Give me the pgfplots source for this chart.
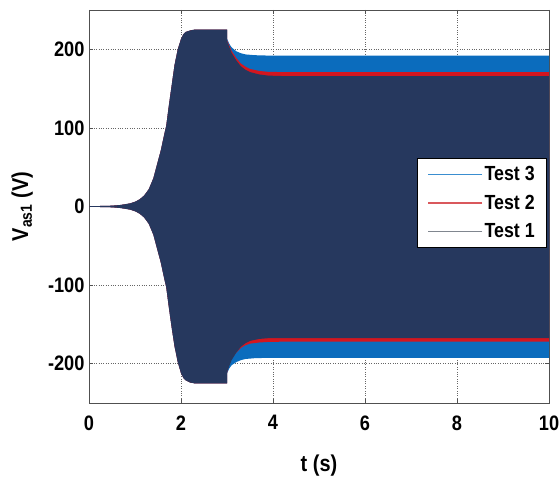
\documentclass[border=0pt]{standalone}
\usepackage{fontspec}
\setmainfont{Liberation Sans}[FakeStretch=0.87]
\usepackage{pgfplots}
\pgfplotsset{compat=1.18}
\usepackage{pgfplotstable}
\usepgfplotslibrary{fillbetween}

\definecolor{navy}{HTML}{26385E}
\definecolor{tblue}{HTML}{0B6CBD}
\definecolor{tred}{HTML}{D3161F}
\definecolor{lgblue}{HTML}{3A8ED0}
\definecolor{lgred}{HTML}{D9585C}
\definecolor{lggray}{HTML}{80868F}
\definecolor{axgray}{HTML}{505050}

% envelope of the phase voltage (upper / lower peaks)
\pgfplotstableread{
t      hi     lo
0      0.3    -0.3
0.5    1      -1
0.7    2      -2
0.9    4      -4
1.0    6      -6
1.1    9      -9
1.2    14     -14
1.3    22     -22
1.4    36     -36
1.45   47     -47
1.5    58     -58
1.56   71     -71
1.63   90     -90
1.68   103    -103
1.74   130    -130
1.8    155    -155
1.86   180    -178
1.93   200    -198
2.0    213    -212
2.05   219    -218
2.1    222    -221
2.2    224    -224
2.3    225    -225
3.0    225    -225
3.005  210    -210
3.05   203    -203
3.1    195.5  -195.5
3.2    186    -186
3.3    178.5  -178.5
3.4    174    -174
3.5    171    -171
3.7    168    -168.5
3.9    166.5  -167.5
4.2    166    -167.5
10     166    -167.5
}\testone

\pgfplotstableread{
t      hi     lo
0      0.3    -0.3
0.5    1      -1
0.7    2      -2
0.9    4      -4
1.0    6      -6
1.1    9      -9
1.2    14     -14
1.3    22     -22
1.4    36     -36
1.45   47     -47
1.5    58     -58
1.56   71     -71
1.63   90     -90
1.68   103    -103
1.74   130    -130
1.8    155    -155
1.86   180    -178
1.93   200    -198
2.0    213    -212
2.05   219    -218
2.1    222    -221
2.2    224    -224
2.3    225    -225
3.0    225    -225
3.005  211    -211
3.05   205    -200
3.1    198    -194
3.2    189    -186
3.3    182    -180
3.4    178    -176.5
3.5    175    -174.5
3.7    172.5  -173
3.9    171.3  -172.3
4.2    171    -172
10     171    -172
}\testtwo

\pgfplotstableread{
t      hi     lo
0      0.3    -0.3
0.5    1      -1
0.7    2      -2
0.9    4      -4
1.0    6      -6
1.1    9      -9
1.2    14     -14
1.3    22     -22
1.4    36     -36
1.45   47     -47
1.5    58     -58
1.56   71     -71
1.63   90     -90
1.68   103    -103
1.74   130    -130
1.8    155    -155
1.86   180    -178
1.93   200    -198
2.0    213    -212
2.05   219    -218
2.1    222    -221
2.2    224    -224
2.3    225    -225
3.0    225    -225
3.005  213    -212
3.05   207    -206
3.1    202.5  -202
3.15   200    -200
3.2    197.5  -198
3.3    195    -195.5
3.4    193.5  -194
3.6    192.5  -193
3.9    192    -192.5
10     192    -192.5
}\testthree

\begin{document}
\begin{tikzpicture}
\begin{axis}[
  scale only axis,
  width=460bp, height=393bp,
  xmin=0, xmax=10, ymin=-250, ymax=250,
  xtick={0,2,...,10},
  ytick={-200,-100,0,100,200},
  tick align=inside,
  major tick length=4bp,
  tick style={axgray, line width=0.6pt},
  axis line style={axgray, line width=0.8pt},
  grid=major,
  grid style={dotted, gray!80!black, line width=0.6pt},
  /pgf/number format/assume math mode=true,
  ticklabel style={font=\fontsize{21}{25}\selectfont\bfseries},
  xticklabel style={yshift=-9bp},
  yticklabel style={xshift=-1bp},
  label style={font=\fontsize{23}{27}\selectfont\bfseries},
  xlabel={t (s)},
  ylabel={V\textsubscript{as1} (V)},
  xlabel style={at={(axis description cs:0.5,-0.158)}, anchor=center},
  ylabel style={at={(axis description cs:-0.145,0.5)}, anchor=center},
  legend style={
    at={(0.9957,0.623)}, anchor=north east,
    draw=black, line width=0.6pt, fill=white,
    font=\fontsize{20.5}{24}\selectfont\bfseries,
    row sep=9bp, inner xsep=10bp, inner ysep=6bp,
    cells={anchor=west},
  },
]
\coordinate (bl) at (rel axis cs:0,0);
\coordinate (tr) at (rel axis cs:1,1);

% Test 3
\addplot[draw=none, name path=h3, forget plot] table[x=t, y=hi] {\testthree};
\addplot[draw=none, name path=l3, forget plot] table[x=t, y=lo] {\testthree};
\addplot[tblue, legend image code/.code={\draw[draw=lgblue, line width=1.2pt] (0bp,0bp) -- (54bp,0bp);}]
  fill between[of=h3 and l3];
\addlegendentry{Test 3}
% Test 2
\addplot[draw=none, name path=h2, forget plot] table[x=t, y=hi] {\testtwo};
\addplot[draw=none, name path=l2, forget plot] table[x=t, y=lo] {\testtwo};
\addplot[tred, legend image code/.code={\draw[draw=lgred, line width=1.2pt] (0bp,0bp) -- (54bp,0bp);}]
  fill between[of=h2 and l2];
\addlegendentry{Test 2}
% Test 1: stroke colour for the legend line, fill colour for the envelope
\addplot[draw=none, name path=h1, forget plot] table[x=t, y=hi] {\testone};
\addplot[draw=none, name path=l1, forget plot] table[x=t, y=lo] {\testone};
\addplot[color=lggray, fill=navy, legend image code/.code={\draw[draw=lggray, line width=1.2pt] (0bp,0bp) -- (54bp,0bp);}]
  fill between[of=h1 and l1];
\addlegendentry{Test 1}
\end{axis}
\pgfresetboundingbox
\path[use as bounding box] ([shift={(-89bp,-78bp)}]bl) rectangle ([shift={(11bp,10bp)}]tr);
\end{tikzpicture}
\end{document}
